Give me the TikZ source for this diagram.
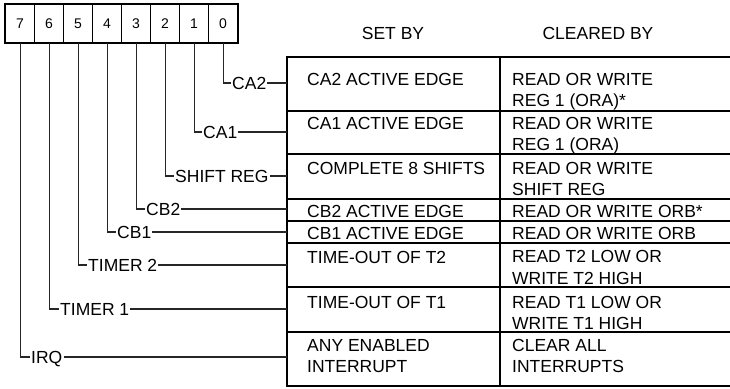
\documentclass[tikz,border=0pt]{standalone}
\usepackage{fontspec}
\setmainfont{Liberation Sans}
\begin{document}
\begin{tikzpicture}[x=1pt,y=-1pt,
  font=\fontsize{17.5}{21.5}\selectfont,
  bitcell/.style={draw, line width=1.2pt, minimum width=29pt, minimum height=38pt,
    inner sep=0pt, anchor=north west, font=\fontsize{14}{16}\selectfont},
  lab/.style={anchor=west, inner sep=1pt, text height=12.5pt, text depth=0pt},
  conn/.style={line width=1.1pt, draw=black!85},
  frame/.style={line width=2pt},
  rule/.style={line width=1.2pt},
  celltext/.style={anchor=base west, inner sep=0pt, align=left},
  head/.style={anchor=center, inner sep=0pt, text height=12.5pt, text depth=0pt}]
\useasboundingbox (0,0) rectangle (730,388);
% bit register
\foreach \k in {0,...,7}{
  \pgfmathtruncatemacro\b{7-\k}
  \node[bitcell] (b\b) at (5+29*\k,4) {\b};
}
\draw[line width=1.8pt] (b7.north west) rectangle (b0.south east);
% headers
\node[head] (hset) at (393,33) {SET BY};
\node[head] (hclr) at (598,33) {CLEARED BY};
% table
\coordinate (tl) at (287,57);
\draw[rule] (500,57) -- (500,386);
\foreach \y in {111,154,199,221,243,287,332}{
  \draw[rule] (287,\y) -- (730,\y);
}
\draw[frame] (730,57) -- (tl) -- (287,386) -- (730,386);
% labels
\node[lab] (l0) at (231,83) {CA2};
\node[lab] (l1) at (202,132) {CA1};
\node[lab] (l2) at (174,176) {SHIFT REG};
\node[lab] (l3) at (145,209) {CB2};
\node[lab] (l4) at (116,232) {CB1};
\node[lab] (l5) at (87,265) {TIMER 2};
\node[lab] (l6) at (59,309) {TIMER 1};
\node[lab] (l7) at (30,357) {IRQ};
\foreach \i in {0,...,7}{
  \draw[conn] (b\i.south) |- (l\i.west);
  \draw[conn] (l\i.east) -- (l\i.east -| tl);
}
% set by (base anchor = baseline of last line)
\node[celltext] (s0) at (307,85) {CA2 ACTIVE EDGE};
\node[celltext] (s1) at (307,129) {CA1 ACTIVE EDGE};
\node[celltext] (s2) at (307,174) {COMPLETE 8 SHIFTS};
\node[celltext] (s3) at (307,217) {CB2 ACTIVE EDGE};
\node[celltext] (s4) at (307,239) {CB1 ACTIVE EDGE};
\node[celltext] (s5) at (307,263) {TIME-OUT OF T2};
\node[celltext] (s6) at (307,308) {TIME-OUT OF T1};
\node[celltext] (s7) at (307,372.5) {ANY ENABLED\\INTERRUPT};
% cleared by
\node[celltext] (c0) at (512,106.5) {READ OR WRITE\\REG 1 (ORA)*};
\node[celltext] (c1) at (512,150.5) {READ OR WRITE\\REG 1 (ORA)};
\node[celltext] (c2) at (512,195.5) {READ OR WRITE\\SHIFT REG};
\node[celltext] (c3) at (512,217) {READ OR WRITE ORB*};
\node[celltext] (c4) at (512,239) {READ OR WRITE ORB};
\node[celltext] (c5) at (512,284) {READ T2 LOW OR\\WRITE T2 HIGH};
\node[celltext] (c6) at (512,329.5) {READ T1 LOW OR\\WRITE T1 HIGH};
\node[celltext] (c7) at (512,372.5) {CLEAR ALL\\INTERRUPTS};
\end{tikzpicture}
\end{document}
